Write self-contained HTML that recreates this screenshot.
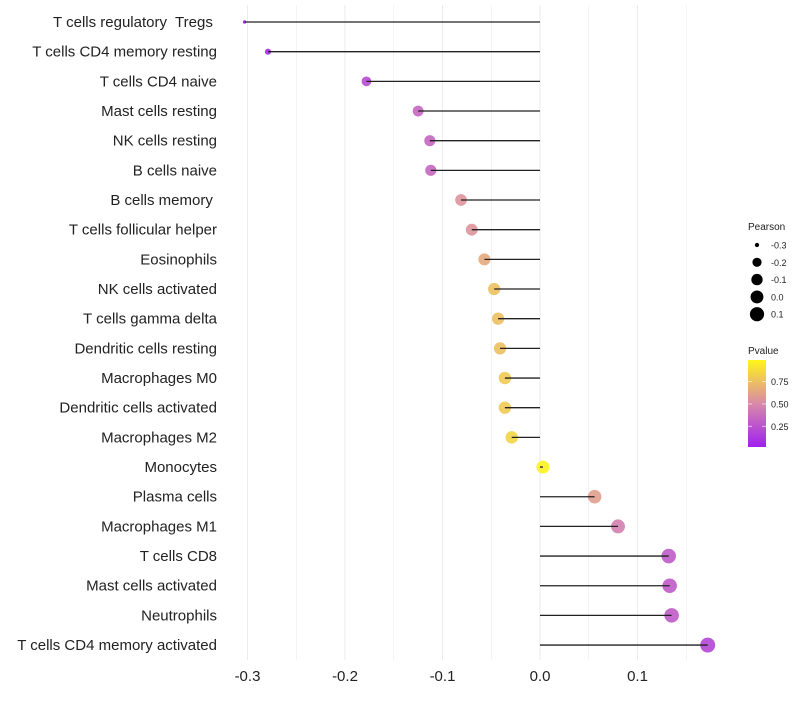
<!DOCTYPE html>
<html><head><meta charset="utf-8"><style>
body{margin:0;background:#fff;font-family:"Liberation Sans",sans-serif}
</style></head><body>
<svg id="chart" width="800" height="700"></svg>
<script>
const categories=["T cells regulatory  Tregs ","T cells CD4 memory resting","T cells CD4 naive","Mast cells resting","NK cells resting","B cells naive","B cells memory ","T cells follicular helper","Eosinophils","NK cells activated","T cells gamma delta","Dendritic cells resting","Macrophages M0","Dendritic cells activated","Macrophages M2","Monocytes","Plasma cells","Macrophages M1","T cells CD8","Mast cells activated","Neutrophils","T cells CD4 memory activated"];
const pearson=[-0.303,-0.279,-0.178,-0.125,-0.113,-0.112,-0.081,-0.070,-0.057,-0.047,-0.043,-0.041,-0.036,-0.036,-0.029,0.003,0.056,0.080,0.132,0.133,0.135,0.172];
const pvalue=[0.02,0.05,0.2,0.33,0.33,0.33,0.55,0.55,0.65,0.75,0.75,0.75,0.8,0.8,0.85,0.99,0.6,0.45,0.28,0.28,0.28,0.18];
const xTicks=[-0.3,-0.2,-0.1,0.0,0.1];
const xTickLabels=["-0.3","-0.2","-0.1","0.0","0.1"];
const sizeLegend=[-0.3,-0.2,-0.1,0.0,0.1];
const sizeLegendLabels=["-0.3","-0.2","-0.1","0.0","0.1"];
const colorLegend=[0.25,0.5,0.75];

const NS="http://www.w3.org/2000/svg";
const svg=document.getElementById('chart');
function el(t,a,p){const e=document.createElementNS(NS,t);for(const k in a)e.setAttribute(k,a[k]);(p||svg).appendChild(e);return e;}
const x=v=>540+v*975;
const y=i=>22+i*29.67;
const pmin=Math.min(...pearson),pmax=Math.max(...pearson);
const r=v=>{const t=Math.max(0,(v-pmin)/(pmax-pmin));return Math.sqrt(3+53*Math.pow(t,0.7));};
function lerp(a,b,t){return a.map((c,i)=>Math.round(c+(b[i]-c)*t));}
function col(p){const c0=[160,32,240],c1=[216,138,168],c2=[255,245,26];
 const c=p<0.5?lerp(c0,c1,p/0.5):lerp(c1,c2,(p-0.5)/0.5);return `rgb(${c})`;}
for(let v=-0.3;v<=0.151;v+=0.05){
 const g=el('line',{x1:x(v),x2:x(v),y1:5,y2:660,stroke:'#ebebeb','stroke-width':Math.abs(Math.round(v*20))%2===0?1:0.6});
 
 
}
xTicks.forEach((v,i)=>{
 const t=el('text',{x:x(v),y:681,'text-anchor':'middle','font-size':15,fill:'#222'});
 t.textContent=xTickLabels[i];
 
 
});
categories.forEach((c,i)=>{
 const t=el('text',{x:217,y:y(i)+5,'text-anchor':'end','font-size':15,fill:'#222','xml:space':'preserve'});
 t.style.whiteSpace='pre';
 t.textContent=c;
 
 
 const d=el('circle',{cx:x(pearson[i]),cy:y(i),r:r(pearson[i]),fill:col(pvalue[i]),'fill-opacity':0.9});
 
 
 const l=el('line',{x1:x(0),x2:x(pearson[i]),y1:y(i),y2:y(i),stroke:'#222','stroke-width':1.3});
 
 
});
const st=el('text',{x:748,y:230,'font-size':10,fill:'#222'});st.textContent='Pearson';


sizeLegend.forEach((v,i)=>{
 const cy=245+i*17.3;
 const c=el('circle',{cx:757,cy:cy,r:r(v),fill:'#000'});
 
 
 const t=el('text',{x:771,y:cy+3.5,'font-size':9,fill:'#222'});t.textContent=sizeLegendLabels[i];
 
 
});
const ct=el('text',{x:748,y:354,'font-size':10,fill:'#222'});ct.textContent='Pvalue';


const defs=el('defs',{});const lg=el('linearGradient',{id:'pg',x1:0,y1:1,x2:0,y2:0},defs);
[0,0.5,1].forEach(o=>el('stop',{offset:o,'stop-color':col(o)},lg));
const bar=el('rect',{x:748,y:360,width:18,height:87,fill:'url(#pg)'});


const py=p=>447-(p-0.02)/(0.99-0.02)*87;
colorLegend.forEach(p=>{
 el('line',{x1:748,x2:752,y1:py(p),y2:py(p),stroke:'#fff','stroke-opacity':0.6});
 el('line',{x1:762,x2:766,y1:py(p),y2:py(p),stroke:'#fff','stroke-opacity':0.6});
 const t=el('text',{x:771,y:py(p)+3.5,'font-size':9,fill:'#222'});t.textContent=p.toFixed(2);
 
 
});
</script>
</body></html>
